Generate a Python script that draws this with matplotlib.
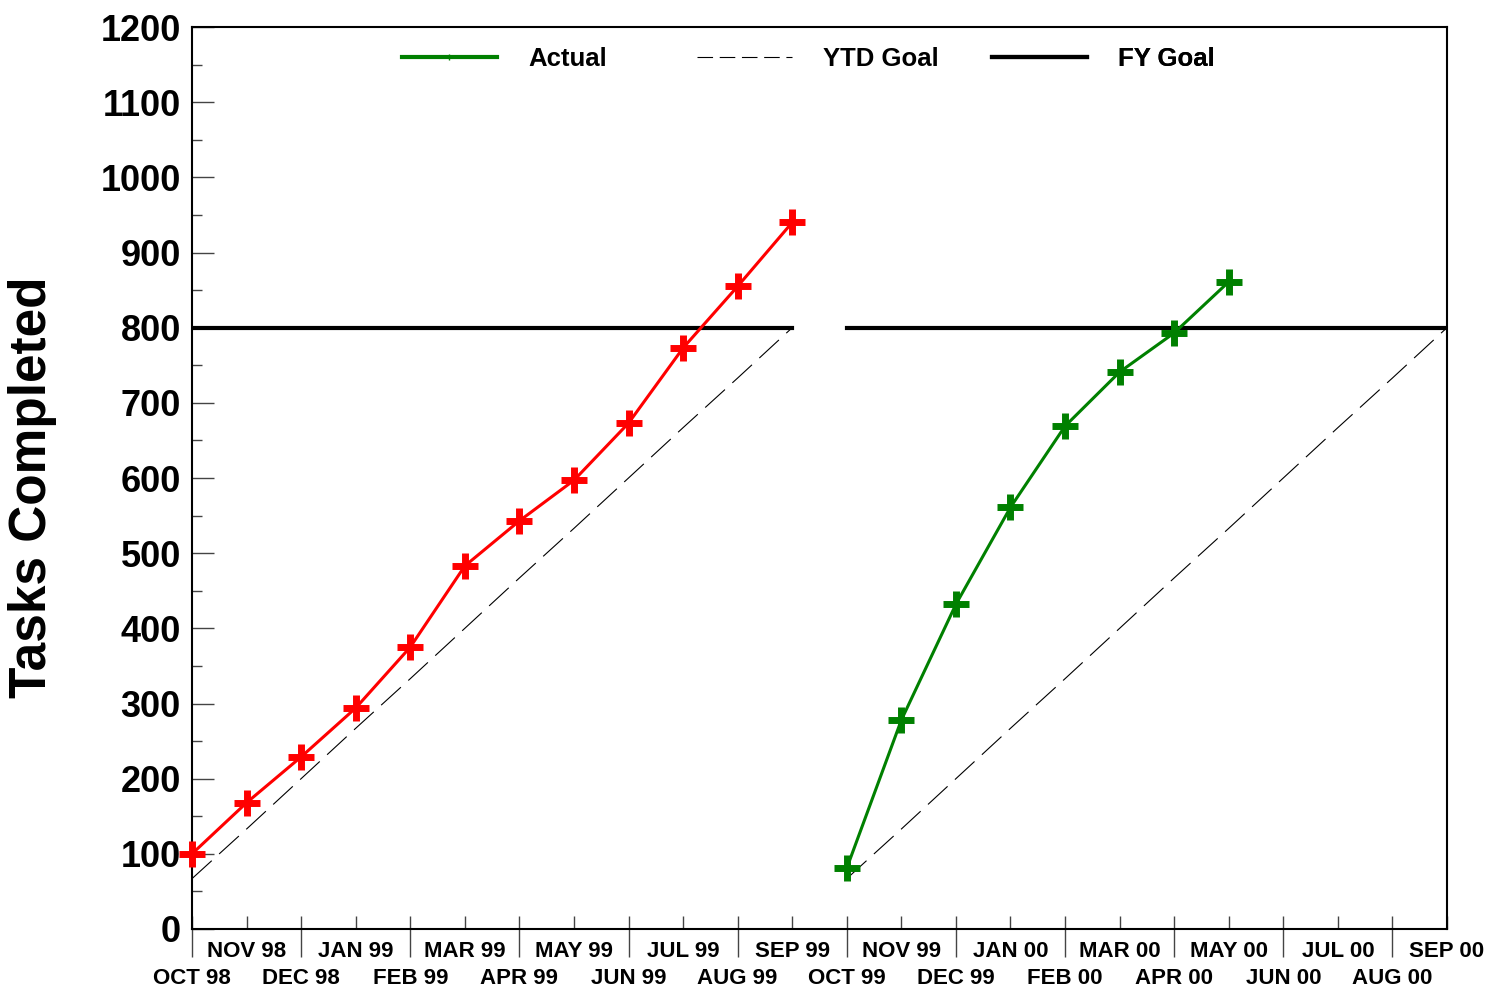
import matplotlib
matplotlib.use('Agg')
import matplotlib.pyplot as plt
from matplotlib.lines import Line2D
from matplotlib.ticker import MultipleLocator
import numpy as np

plt.rcParams['font.family'] = ['Liberation Sans', 'DejaVu Sans']
plt.rcParams['font.weight'] = 'bold'

# month labels, two fiscal years
months = ['OCT 98', 'NOV 98', 'DEC 98', 'JAN 99', 'FEB 99', 'MAR 99',
          'APR 99', 'MAY 99', 'JUN 99', 'JUL 99', 'AUG 99', 'SEP 99',
          'OCT 99', 'NOV 99', 'DEC 99', 'JAN 00', 'FEB 00', 'MAR 00',
          'APR 00', 'MAY 00', 'JUN 00', 'JUL 00', 'AUG 00', 'SEP 00']

# data
fy99_actual = [100, 168, 229, 294, 375, 483, 543, 597, 673, 773, 855, 940]
fy00_actual = [81, 278, 432, 561, 669, 741, 793, 861]
ytd_goal = [67, 133, 200, 267, 333, 400, 467, 533, 600, 667, 733, 800]
fy_goal = [800] * 12

x = np.arange(len(months))
x99 = x[:12]
x00 = x[12:]

fig = plt.figure(figsize=(14.9, 9.9), dpi=100)
ax = fig.add_axes([192 / 1490, 61 / 990, 1255 / 1490, 902 / 990])

# goals
for xs in (x99, x00):
    ax.plot(xs, ytd_goal, color='black', lw=0.8, dashes=(24, 9))
    ax.plot(xs, fy_goal, color='black', lw=3)

# actuals
ax.plot(x99, fy99_actual, color='#ff0000', lw=2.2, marker='+', ms=19, mew=5, clip_on=False, zorder=5)
ax.plot(x00[:len(fy00_actual)], fy00_actual, color='#008000', lw=2.2, marker='+', ms=19, mew=5,
        clip_on=False, zorder=5)

# legend: three separate entries placed along the top
entries = [
    (Line2D([], [], color='#008000', lw=3, marker='+', ms=4, mew=1), 'Actual', 0.1673),
    (Line2D([], [], color='black', lw=0.8, dashes=(14, 6)), 'YTD Goal', 0.4024),
    (Line2D([], [], color='black', lw=3), 'FY Goal', 0.6375),
]
for h, lab, xa in entries:
    leg = ax.legend([h], [lab], loc='center left', bbox_to_anchor=(xa, 0.965),
                    frameon=False, fontsize=18.5, handlelength=3.7, handletextpad=1.2,
                    borderpad=0, borderaxespad=0, numpoints=1)
    ax.add_artist(leg)

ax.set_xlim(0, 23)
ax.set_ylim(0, 1200)

# x ticks: even months on the lower row, odd months on the upper row
ax.xaxis.remove_overlapping_locs = False
ax.set_xticks(x[::2])
ax.set_xticklabels(months[::2])
ax.set_xticks(x, minor=True)
ax.set_xticklabels([m if i % 2 else '' for i, m in enumerate(months)], minor=True)
ax.tick_params(axis='x', which='major', direction='out', length=20, width=1, pad=8,
               labelsize=16, color='#444444')
ax.tick_params(axis='x', which='minor', direction='in', length=9.4, width=1, pad=8.5,
               labelsize=16, color='#444444')

ax.yaxis.set_major_locator(MultipleLocator(100))
ax.yaxis.set_minor_locator(MultipleLocator(50))
ax.tick_params(axis='y', which='major', direction='in', length=16, width=1, pad=8,
               labelsize=26, color='#444444')
ax.tick_params(axis='y', which='minor', direction='in', length=7, width=1, color='#444444')

for sp in ax.spines.values():
    sp.set_linewidth(1.5)

fig.text(33 / 1490, 1 - 487 / 990, 'Tasks Completed', rotation=90, fontsize=37,
         fontweight='bold', ha='center', va='center')

fig.savefig('out.png', dpi=100)
